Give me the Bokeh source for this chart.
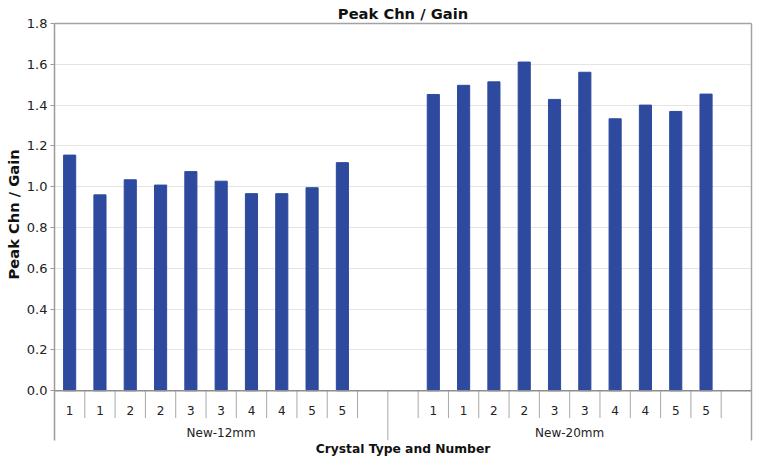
from bokeh.plotting import figure
from bokeh.models import Range1d, FixedTicker, LinearAxis, Span, NumeralTickFormatter, Title
from bokeh.embed import file_html
from bokeh.resources import INLINE
from bokeh.core.properties import value

# ---- data ----
groups = ["New-12mm", "New-20mm"]
crystal_numbers = ["1", "1", "2", "2", "3", "3", "4", "4", "5", "5"]
new_12mm = [1.155, 0.960, 1.034, 1.008, 1.074, 1.027, 0.966, 0.966, 0.995, 1.118]
new_20mm = [1.452, 1.497, 1.514, 1.611, 1.428, 1.561, 1.333, 1.400, 1.369, 1.454]
group_values = [new_12mm, new_20mm]
# empty category slots before / after each group's bars (as in the source chart)
lead_blanks = [0, 1]
trail_blanks = [1, 1]
y_ticks = [0.0, 0.2, 0.4, 0.6, 0.8, 1.0, 1.2, 1.4, 1.6, 1.8]

FONT = "DejaVu Sans"
BAR = "#2E4A9F"

# ---- slot layout ----
bar_x, bar_top = [], []
slot_x, slot_lab = [], []
grp_x, grp_lab = [], []
short_sep, long_sep = [], []
offset = 0
for g, vals in enumerate(group_values):
    start = offset
    n = lead_blanks[g] + len(vals) + trail_blanks[g]
    for k in range(n):
        idx = k - lead_blanks[g]
        slot_x.append(start + k + 0.5)
        slot_lab.append(crystal_numbers[idx] if 0 <= idx < len(vals) else "")
        if 0 <= idx < len(vals):
            bar_x.append(start + k + 0.5)
            bar_top.append(vals[idx])
        if k > 0:
            short_sep.append(start + k)
    grp_x.append(start + n / 2)
    grp_lab.append(groups[g])
    offset += n
    if g < len(group_values) - 1:
        long_sep.append(offset)
n_slots = offset

Y0, Y1 = -0.244, y_ticks[-1]
SLOT_LAB_Y, GRP_LAB_Y, SHORT_BOTTOM = -0.096, -0.206, -0.134

p = figure(width=753, height=458, x_range=Range1d(0, n_slots), y_range=Range1d(Y0, Y1),
           output_backend="svg", toolbar_location=None, min_border=0,
           min_border_left=50, min_border_right=2, title="Peak Chn / Gain")
p.title.align = "center"
p.title.text_font = FONT
p.title.text_font_size = "14.7px"
p.title.text_font_style = "bold"
p.title.text_color = "#111111"
p.title.standoff = 4
p.outline_line_color = None
p.background_fill_color = "white"

p.xgrid.visible = False
p.ygrid.ticker = FixedTicker(ticks=y_ticks[1:-1])
p.ygrid.grid_line_color = "#E4E4E4"

ya = p.yaxis[0]
ya.ticker = FixedTicker(ticks=y_ticks)
ya.formatter = NumeralTickFormatter(format="0.0")
ya.major_tick_out = 4
ya.major_tick_in = 0
ya.minor_tick_out = 0
ya.minor_tick_in = 0
ya.major_tick_line_color = "#9A9A9A"
ya.axis_line_color = "#9A9A9A"
ya.axis_line_width = 1.5
ya.major_label_text_font = FONT
ya.major_label_text_font_size = "13px"
ya.major_label_text_color = "#222222"
ya.major_label_standoff = 3

# y-axis title, raised so it sits centred beside the value area rather than the whole frame
p.add_layout(Title(text="Peak Chn / Gain", align="left", offset=161, standoff=4,
                   text_font=FONT, text_font_size="14.7px", text_font_style="bold",
                   text_color="#111111"), "left")

xa = p.xaxis[0]
xa.ticker = FixedTicker(ticks=[])
xa.axis_line_color = None
xa.major_tick_out = 0
xa.major_tick_in = 0
xa.minor_tick_out = 0
xa.major_label_standoff = 0
xa.axis_label = "Crystal Type and Number"
xa.axis_label_text_font = FONT
xa.axis_label_text_font_size = "12.3px"
xa.axis_label_text_font_style = "bold"
xa.axis_label_text_color = "#111111"
xa.axis_label_standoff = 1

for side in ("above", "right"):
    ax = LinearAxis(ticker=FixedTicker(ticks=[]), axis_line_color="#A3A3A3", axis_line_width=1.5,
                    major_tick_out=0, major_tick_in=0, minor_tick_out=0, minor_tick_in=0,
                    major_label_standoff=0, major_label_text_font_size="0px")
    p.add_layout(ax, side)

p.vbar(x=bar_x, top=bar_top, bottom=0, width=0.4, fill_color=BAR, line_color=BAR)

# category table below the baseline
p.segment(x0=short_sep, x1=short_sep, y0=[0] * len(short_sep), y1=[SHORT_BOTTOM] * len(short_sep),
          line_color="#A8A8A8", line_width=1)
p.segment(x0=long_sep, x1=long_sep, y0=[0] * len(long_sep), y1=[Y0] * len(long_sep),
          line_color="#A8A8A8", line_width=1)
p.add_layout(Span(location=0, dimension="width", line_color="#8E8E8E", line_width=1.5))

p.text(x=slot_x, y=[SLOT_LAB_Y] * len(slot_x), text=slot_lab, text_align="center",
       text_baseline="middle", text_font=value(FONT), text_font_size="12px", text_color="#222222")
p.text(x=grp_x, y=[GRP_LAB_Y] * len(grp_x), text=grp_lab, text_align="center",
       text_baseline="middle", text_font=value(FONT), text_font_size="12px", text_color="#222222")

open("out.html", "w").write(file_html(p, INLINE))
